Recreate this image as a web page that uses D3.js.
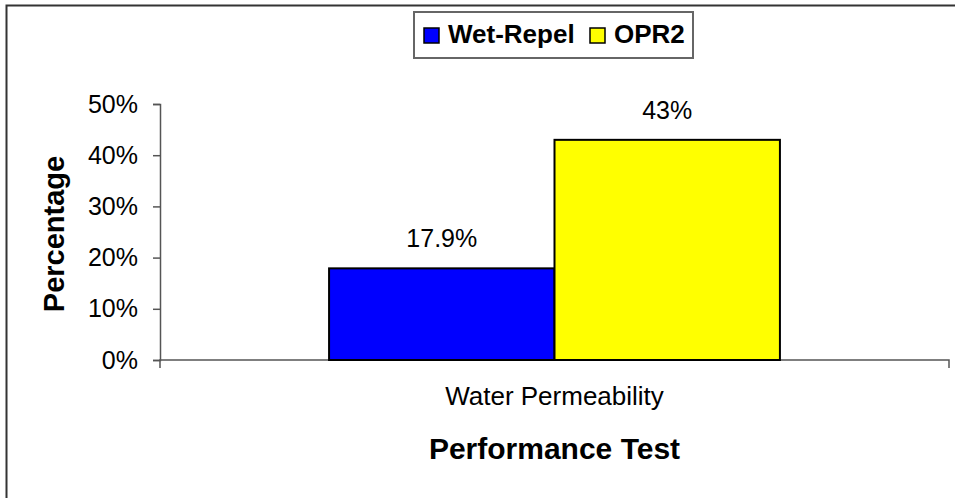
<!DOCTYPE html>
<html>
<head>
<meta charset="utf-8">
<script src="https://cdn.jsdelivr.net/npm/d3@7"></script>
<style>
  body { margin: 0; background: #fff; }
  svg { display: block; font-family: "Liberation Sans", Arial, sans-serif; }
</style>
</head>
<body>
<div id="chart"></div>
<script>

  /**
   * Data
   */

  const categories = ['Water Permeability'];
  const seriesNames = ['Wet-Repel', 'OPR2'];
  const seriesColors = ['#0000FF', '#FFFF00'];
  const wetRepel = [0.179];
  const opr2 = [0.43];
  const valueLabels = [['17.9%'], ['43%']];
  const yTicks = [0, 0.1, 0.2, 0.3, 0.4, 0.5];


  /**
   * Setup
   */

  const width = 955;
  const height = 498;
  const plot = { left: 160, right: 949, top: 104, bottom: 360 };

  const svg = d3.select('#chart')
                .append('svg')
                .attr('width', width)
                .attr('height', height);

  // outer frame of the chart object
  svg.append('path')
     .attr('d', `M6.5,${height} V5.5 H${width}`)
     .attr('fill', 'none')
     .attr('stroke', '#333')
     .attr('stroke-width', 2);

  const x = d3.scaleBand()
              .domain(categories)
              .range([plot.left, plot.right])
              .paddingInner(0)
              .paddingOuter(0.375);

  const xSeries = d3.scaleBand()
                    .domain(seriesNames)
                    .range([0, x.bandwidth()]);

  const y = d3.scaleLinear()
              .domain([0, 0.5])
              .range([plot.bottom, plot.top]);

  const series = [wetRepel, opr2];


  /**
   * Axes
   */

  const yAxis = svg.append('g')
                   .attr('transform', `translate(${plot.left},0)`)
                   .call(d3.axisLeft(y)
                           .tickValues(yTicks)
                           .tickFormat(d3.format('.0%'))
                           .tickSize(7)
                           .tickPadding(15));

  yAxis.select('.domain').attr('stroke', '#555').attr('stroke-width', 1.5);
  yAxis.selectAll('.tick line').attr('stroke', '#555').attr('stroke-width', 1.5);
  yAxis.selectAll('.tick text')
       .attr('fill', '#000')
       .style('font-size', '25px')
       .style('font-family', '"Liberation Sans", Arial, sans-serif');

  // x axis line with end ticks pointing down
  const xAxis = svg.append('g')
                   .attr('transform', `translate(0,${plot.bottom})`)
                   .call(d3.axisBottom(x).tickSize(0).tickFormat(''));

  xAxis.select('.domain').remove();
  xAxis.append('path')
       .attr('d', `M${plot.left},8 V0 H${plot.right} V8`)
       .attr('fill', 'none')
       .attr('stroke', '#555')
       .attr('stroke-width', 1.5);


  /**
   * Bars
   */

  const groups = svg.selectAll('g.category')
                    .data(categories)
                    .enter()
                    .append('g')
                    .attr('class', 'category')
                    .attr('transform', d => `translate(${x(d)},0)`);

  seriesNames.forEach((name, si) => {
    groups.append('rect')
          .attr('x', xSeries(name))
          .attr('y', (d, ci) => y(series[si][ci]))
          .attr('width', xSeries.bandwidth())
          .attr('height', (d, ci) => y(0) - y(series[si][ci]))
          .attr('fill', seriesColors[si])
          .attr('stroke', '#000')
          .attr('stroke-width', 2);

    groups.append('text')
          .attr('x', xSeries(name) + xSeries.bandwidth() / 2)
          .attr('y', (d, ci) => y(series[si][ci]) - 21)
          .attr('text-anchor', 'middle')
          .style('font-size', '25px')
          .text((d, ci) => valueLabels[si][ci]);
  });

  // category label
  svg.selectAll('text.cat')
     .data(categories)
     .enter()
     .append('text')
     .attr('class', 'cat')
     .attr('x', d => x(d) + x.bandwidth() / 2)
     .attr('y', 405)
     .attr('text-anchor', 'middle')
     .style('font-size', '26px')
     .text(d => d);


  /**
   * Titles
   */

  svg.append('text')
     .attr('x', x(categories[0]) + x.bandwidth() / 2)
     .attr('y', 459)
     .attr('text-anchor', 'middle')
     .style('font-size', '30px')
     .style('font-weight', 'bold')
     .text('Performance Test');

  svg.append('text')
     .attr('transform', `translate(64,${(plot.top + plot.bottom) / 2 + 2}) rotate(-90)`)
     .attr('text-anchor', 'middle')
     .style('font-size', '29px')
     .style('font-weight', 'bold')
     .text('Percentage');


  /**
   * Legend
   */

  const legend = svg.append('g').attr('transform', 'translate(414,12)');

  legend.append('rect')
        .attr('width', 279)
        .attr('height', 46)
        .attr('fill', '#fff')
        .attr('stroke', '#666')
        .attr('stroke-width', 2);

  const legendX = [10, 176];

  seriesNames.forEach((name, i) => {
    const item = legend.append('g').attr('transform', `translate(${legendX[i]},0)`);

    item.append('rect')
        .attr('x', 0)
        .attr('y', 16)
        .attr('width', 15)
        .attr('height', 15)
        .attr('fill', seriesColors[i])
        .attr('stroke', '#000')
        .attr('stroke-width', 1.5);

    item.append('text')
        .attr('x', 24)
        .attr('y', 31)
        .style('font-size', '26px')
        .style('font-weight', 'bold')
        .text(name);
  });

</script>
</body>
</html>
